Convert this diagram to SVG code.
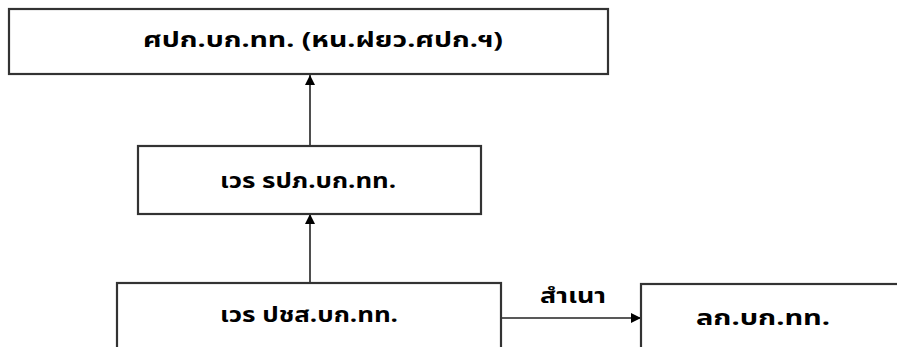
<svg xmlns="http://www.w3.org/2000/svg" width="897" height="347" viewBox="0 0 897 347">
<style>
.box{fill:#fff;stroke:#333;stroke-width:2.2}
.t{font-family:"Noto Sans Thai","Tahoma","DejaVu Sans","Noto Sans",sans-serif;font-weight:bold;font-size:22px;fill:#000;text-anchor:middle;dominant-baseline:central}
.ln{stroke:#222;stroke-width:1.6;fill:none}
</style>
<defs>
<marker id="ah" viewBox="0 0 10 10" refX="10" refY="5" markerWidth="13" markerHeight="10" markerUnits="userSpaceOnUse" orient="auto">
<path d="M0,0 L10,5 L0,10 Z" fill="#000"/>
</marker>
</defs>
<rect width="897" height="347" fill="#fff"/>
<g id="connectors">
<line class="ln" x1="310" y1="146" x2="310" y2="75" marker-end="url(#ah)"/>
<line class="ln" x1="310" y1="283" x2="310" y2="214" marker-end="url(#ah)"/>
<line class="ln" x1="502" y1="318" x2="641" y2="318" marker-end="url(#ah)"/>
<text class="t" x="573" y="296" textLength="66" lengthAdjust="spacingAndGlyphs">สำเนา</text>
</g>
<g id="n1">
<rect class="box" x="9" y="9" width="599" height="65"/>
<text class="t" x="323" y="40" textLength="360" lengthAdjust="spacingAndGlyphs">ศปก.บก.ทท. (หน.ฝยว.ศปก.ฯ)</text>
</g>
<g id="n2">
<rect class="box" x="138" y="146" width="343" height="68"/>
<text class="t" x="308" y="181" textLength="176" lengthAdjust="spacingAndGlyphs">เวร รปภ.บก.ทท.</text>
</g>
<g id="n3">
<rect class="box" x="117" y="283" width="384" height="70"/>
<text class="t" x="309" y="315" textLength="178" lengthAdjust="spacingAndGlyphs">เวร ปชส.บก.ทท.</text>
</g>
<g id="n4">
<rect class="box" x="641" y="284" width="270" height="70"/>
<text class="t" x="763" y="318" textLength="134" lengthAdjust="spacingAndGlyphs">ลก.บก.ทท.</text>
</g>
</svg>
